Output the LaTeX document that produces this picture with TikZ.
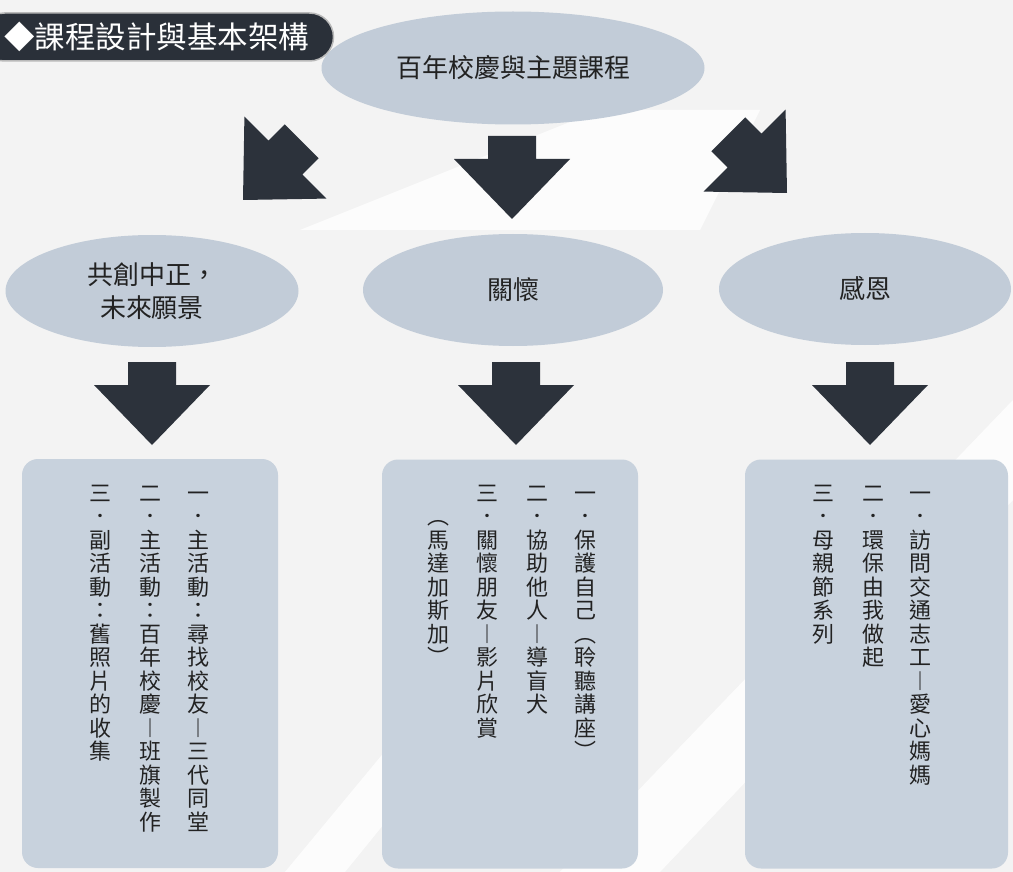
\documentclass[tikz,border=0pt]{standalone}
\usepackage{fontspec}
\setmainfont{Noto Sans CJK TC}
\usetikzlibrary{shapes.geometric}

\definecolor{ovalfill}{HTML}{C2CCD8}
\definecolor{boxfill}{HTML}{C8D2DD}
\definecolor{arrowfill}{HTML}{2C323B}
\definecolor{tagfill}{HTML}{2A3039}
\definecolor{inkgray}{HTML}{222222}
\definecolor{paper}{HTML}{F3F3F3}

% one character per row, for the vertical columns
\makeatletter
\def\vcol@end{}
\def\vcol@aux#1{\ifx#1\vcol@end\else\hbox to 1em{\hss#1\hss}\expandafter\vcol@aux\fi}
\newcommand\vcol[1]{\vtop{\baselineskip=23.5pt\lineskiplimit=-\maxdimen\vcol@aux#1\vcol@end}}
\makeatother

\begin{document}
\begin{tikzpicture}[x=1pt, y=-1pt,
	every node/.style={text=inkgray},
	oval/.style={ellipse, fill=ovalfill, inner sep=0pt, font=\fontsize{26pt}{33pt}\selectfont, align=center},
	itembox/.style={fill=boxfill, rounded corners=16pt, inner sep=0pt, minimum height=409pt},
	colstack/.style={inner sep=0pt, anchor=base, font=\fontsize{22pt}{23.5pt}\selectfont},
	tagbox/.style={fill=tagfill, draw=gray!55, line width=1.5pt, rounded corners=24pt, text=white,
		minimum width=353pt, minimum height=48pt, inner sep=0pt, font=\fontsize{30.5pt}{32pt}\selectfont},
	streak/.style={fill=white, opacity=0.8},
	blockarrow/.pic={\fill[arrowfill] (0,0) -- (-58,-60) -- (-24,-60) -- (-24,-83) -- (24,-83) -- (24,-60) -- (58,-60) -- cycle;}]
	\useasboundingbox (0,0) rectangle (1013,872);
	\clip (0,0) rectangle (1013,872);
	% washed background
	\fill[paper] (0,0) rectangle (1013,872);
	\fill[streak] (560,872) -- (1013,400) -- (1013,500) -- (660,872) -- cycle;
	\fill[streak] (285,872) -- (560,540) -- (590,570) -- (345,872) -- cycle;
	\fill[streak] (300,230) -- (600,110) -- (760,110) -- (700,230) -- cycle;
	% title tag
	\node[tagbox] (tag) at (157,37) {◆課程設計與基本架構};
	% ellipses
	\node[oval, minimum width=383pt, minimum height=113pt] (top) at (513,68) {百年校慶與主題課程};
	\node[oval, minimum width=293pt, minimum height=112pt] (gy) at (152,291) {共創中正，\\未來願景};
	\node[oval, minimum width=300pt, minimum height=112pt] (gh) at (513,290) {關懷};
	\node[oval, minimum width=292pt, minimum height=112pt] (ge) at (865,289) {感恩};
	% block arrows
	\pic[rotate=-45] at (243,200) {blockarrow};
	\pic at (512,219) {blockarrow};
	\pic[rotate=45] at (787,193) {blockarrow};
	\pic at (152,445) {blockarrow};
	\pic at (516,445) {blockarrow};
	\pic at (870,445) {blockarrow};
	% item boxes
	\node[itembox, minimum width=256pt] (bl) at (150,663.5) {};
	\node[itembox, minimum width=256pt] (bm) at (510,664) {};
	\node[itembox, minimum width=263pt] (br) at (876.5,664) {};
	% left box
	\node[colstack] (l1) at (198,501) {\vcol{一．主活動：尋找校友︱三代同堂}};
	\node[colstack] (l2) at (150,501) {\vcol{二．主活動：百年校慶︱班旗製作}};
	\node[colstack] (l3) at (100,501) {\vcol{三．副活動：舊照片的收集}};
	% middle box
	\node[colstack] (m1) at (585,501) {\vcol{一．保護自己︵聆聽講座︶}};
	\node[colstack] (m2) at (537,501) {\vcol{二．協助他人︱導盲犬}};
	\node[colstack] (m3) at (487,501) {\vcol{三．關懷朋友︱影片欣賞}};
	\node[colstack] (m4) at (438,524.5) {\vcol{︵馬達加斯加︶}};
	% right box
	\node[colstack] (r1) at (920,501) {\vcol{一．訪問交通志工︱愛心媽媽}};
	\node[colstack] (r2) at (873,501) {\vcol{二．環保由我做起}};
	\node[colstack] (r3) at (823,501) {\vcol{三．母親節系列}};
\end{tikzpicture}
\end{document}
